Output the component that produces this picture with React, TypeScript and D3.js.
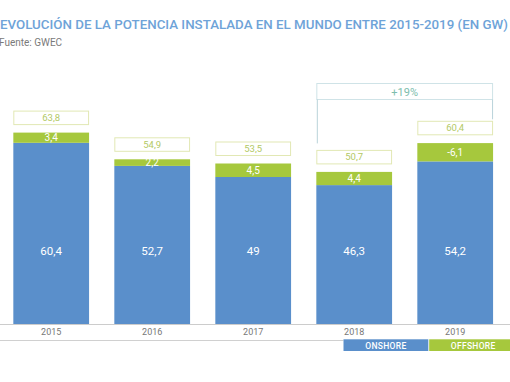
import React from "react";
import * as d3 from "d3";

const years = ["2015", "2016", "2017", "2018", "2019"];
const onshore = [60.4, 52.7, 49, 46.3, 54.2];
const offshore = [3.4, 2.2, 4.5, 4.4, 6.1];
const offshoreLabels = ["3,4", "2,2", "4,5", "4,4", "-6,1"];
const totals = [63.8, 54.9, 53.5, 50.7, 60.4];
const totalLabels = ["63,8", "54,9", "53,5", "50,7", "60,4"];
const onshoreLabels = ["60,4", "52,7", "49", "46,3", "54,2"];
const growthFrom = "2018";
const growthTo = "2019";
const growthLabel = "+19%";
const legendItems = ["ONSHORE", "OFFSHORE"];
const titleText = "EVOLUCIÓN DE LA POTENCIA INSTALADA EN EL MUNDO ENTRE 2015-2019 (EN GW)";
const sourceText = "Fuente: GWEC";

const W = 510;
const H = 382;
const BLUE = "#5a8fcb";
const GREEN = "#a6c83d";
const FONT = "'Roboto', 'DejaVu Sans', sans-serif";

export default function App() {
  const x = d3.scaleBand<string>().domain(years).range([0.7, 505.7]).paddingInner(0.25).paddingOuter(0.125);
  const y = d3.scaleLinear().domain([0, 100]).range([324, 24]);
  const bw = x.bandwidth();
  const boxH = 13.5;
  const boxGap = 8;
  const boxTop = (i: number) => y(totals[i]) - boxGap - boxH;

  const gx0 = (x(growthFrom) as number) + 0.5;
  const gx1 = (x(growthTo) as number) + bw - 0.5;
  const gi0 = years.indexOf(growthFrom);
  const gi1 = years.indexOf(growthTo);
  const gTop = 83.5;
  const gH = 16;

  const legendX = d3.scaleBand<string>().domain(legendItems).range([343.5, 514]).paddingInner(0.01);

  return (
    <svg width={W} height={H} style={{ position: "absolute", left: 0, top: 0 }} fontFamily={FONT}>
      <rect width={W} height={H} fill="#fff" />
      <text x={0} y={28.5} fontSize={12} fontWeight={500} fill="#6ea3d8" textLength={508} lengthAdjust="spacingAndGlyphs">
        {titleText}
      </text>
      <text x={-1} y={46} fontSize={10} fill="#7a7a7a">{sourceText}</text>

      {/* growth annotation */}
      <rect x={gx0} y={gTop} width={gx1 - gx0} height={gH} fill="#fff" stroke="#cfe3e7" strokeWidth={1} />
      <text x={(gx0 + gx1) / 2} y={gTop + 12} textAnchor="middle" fontSize={11} fill="#7dbdad">{growthLabel}</text>
      <line x1={gx0 + 0.5} x2={gx0 + 0.5} y1={gTop + gH} y2={boxTop(gi0) - 7} stroke="#b9d3da" strokeWidth={1} />
      <line x1={gx1} x2={gx1} y1={gTop + gH} y2={boxTop(gi1) - 2} stroke="#b9d3da" strokeWidth={1} />

      {years.map((yr, i) => {
        const bx = x(yr) as number;
        const yOn = y(onshore[i]);
        const yOff = y(onshore[i] + offshore[i]);
        return (
          <g key={yr}>
            <rect x={bx} y={yOn} width={bw} height={y(0) - yOn} fill={BLUE} />
            <rect x={bx} y={yOff} width={bw} height={yOn - yOff} fill={GREEN} />
            <text x={bx + bw / 2} y={(yOn + yOff) / 2 + 3.5} textAnchor="middle" fontSize={10} fill="#fff">
              {offshoreLabels[i]}
            </text>
            <text x={bx + bw / 2} y={y(24.3) + 4} textAnchor="middle" fontSize={11.5} fontWeight={400} fill="#fff">
              {onshoreLabels[i]}
            </text>
            <rect x={bx + 0.5} y={boxTop(i)} width={bw - 1} height={boxH} fill="#fff" stroke="#e2e8b4" strokeWidth={1} />
            <text x={bx + bw / 2} y={boxTop(i) + 10} textAnchor="middle" fontSize={9.5} fill="#b3c965">
              {totalLabels[i]}
            </text>
            <text x={bx + bw / 2} y={335} textAnchor="middle" fontSize={9} fill="#777">{yr}</text>
          </g>
        );
      })}

      <line x1={0} x2={W} y1={y(0) + 0.5} y2={y(0) + 0.5} stroke="#cccccc" strokeWidth={1} />
      <line x1={0} x2={343.5} y1={340.5} y2={340.5} stroke="#d0d0d0" strokeWidth={1} />

      {legendItems.map((name, i) => {
        const lx = legendX(name) as number;
        const lw = legendX.bandwidth();
        return (
          <g key={name}>
            <rect x={lx} y={339.3} width={lw} height={11.7} fill={i === 0 ? BLUE : GREEN} />
            <text x={lx + (i === 0 ? lw / 2 : 44)} y={348.5} textAnchor="middle" fontSize={8.5} fontWeight={500} letterSpacing={0.3} fill="#fff">
              {name}
            </text>
          </g>
        );
      })}
    </svg>
  );
}
